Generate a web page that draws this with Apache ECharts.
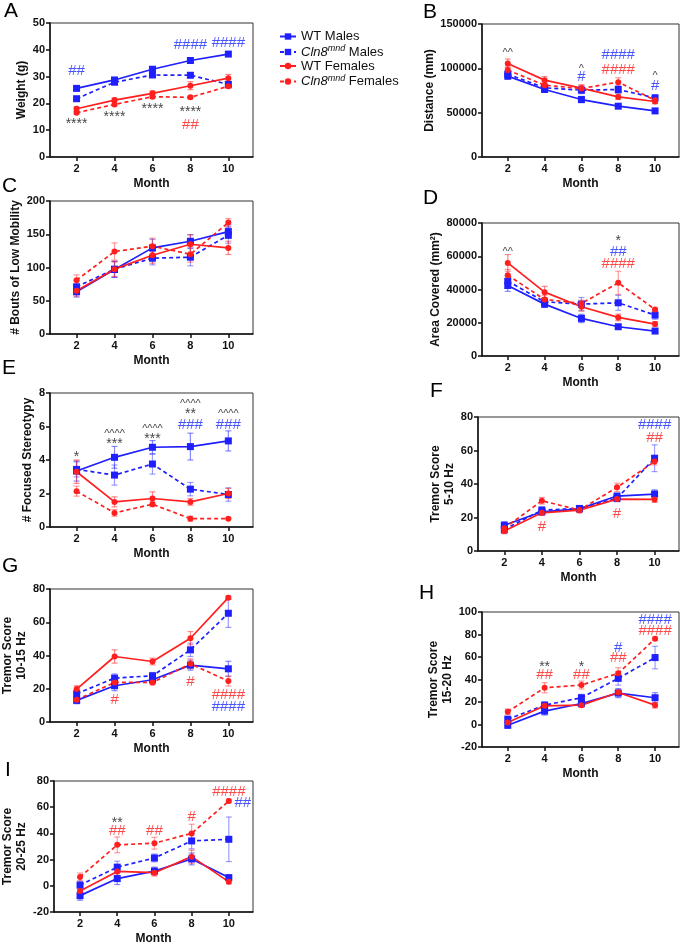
<!DOCTYPE html>
<html>
<head>
<meta charset="utf-8">
<script src="https://cdn.jsdelivr.net/npm/echarts@6/dist/echarts.min.js"></script>
<style>
  html, body { margin: 0; padding: 0; background: #fff; }
  #chart { width: 685px; height: 946px; }
</style>
</head>
<body>
<div id="chart"></div>
<script>
const months = [2, 4, 6, 8, 10]
const groups = ['WT Males', 'Cln8mnd Males', 'WT Females', 'Cln8mnd Females']

// rows: WT males, Cln8 males, WT females, Cln8 females
const weight = [
  [25.6, 28.75, 32.75, 36, 38.4],
  [21.75, 27.9, 30.6, 30.5, 27.1],
  [18, 21.25, 23.75, 26.6, 29.4],
  [16.5, 19.6, 22.5, 22.25, 26.4]
]
const weightErr = [
  [0.5, 0.6, 0.6, 0.8, 0.7],
  [0.6, 0.6, 0.5, 0.8, 0.8],
  [0.7, 0.7, 0.9, 1.5, 1.4],
  [0.5, 0.6, 0.6, 0.6, 0.8]
]
const distance = [
  [91200, 76100, 64800, 57300, 52000],
  [93500, 78000, 75400, 76100, 66700],
  [105500, 86700, 77600, 67800, 62600],
  [98000, 81000, 77300, 84400, 64000]
]
const distanceErr = [
  [3500, 2500, 3500, 1500, 1500],
  [3000, 3000, 4000, 4500, 3500],
  [5000, 4000, 3500, 3000, 2500],
  [4000, 3500, 4000, 5000, 3000]
]
const bouts = [
  [63.5, 97, 129.5, 139.5, 154],
  [71, 97.5, 114, 115.5, 148.5],
  [65, 97.5, 118.5, 135, 129.5],
  [81, 124, 132, 120, 167.5]
]
const boutsErr = [
  [8, 12, 13, 10, 10],
  [10, 12, 10, 13, 12],
  [8, 11, 12, 14, 10],
  [8, 13, 12, 12, 6]
]
const area = [
  [42400, 31200, 22600, 17600, 15000],
  [45000, 32600, 31200, 32000, 24600],
  [56000, 38400, 29600, 23200, 19200],
  [48600, 34000, 31600, 44000, 28000]
]
const areaErr = [
  [3500, 2000, 2500, 1200, 1200],
  [3500, 2500, 4000, 4500, 2500],
  [5000, 3500, 2500, 2000, 1500],
  [3500, 2500, 2000, 7000, 1000]
]
const stereotypy = [
  [3.34, 4.16, 4.76, 4.8, 5.14],
  [3.44, 3.1, 3.76, 2.26, 1.94],
  [3.3, 1.5, 1.7, 1.5, 2.0],
  [2.14, 0.84, 1.36, 0.5, 0.5]
]
const stereotypyErr = [
  [0.6, 0.65, 0.4, 0.8, 0.6],
  [0.45, 0.6, 0.6, 0.4, 0.4],
  [0.7, 0.3, 0.4, 0.2, 0.3],
  [0.3, 0.2, 0.15, 0.15, 0.05]
]
const tremor5 = [
  [15.4, 23.4, 25.2, 32.8, 34],
  [12.8, 24.4, 25.4, 31.4, 55.4],
  [12, 22.8, 24.4, 31, 30.8],
  [13.6, 30, 24.4, 38, 53.4]
]
const tremor5Err = [
  [2, 1.8, 1.5, 1.5, 2.5],
  [2.5, 2, 1.5, 2, 8],
  [1.5, 1.5, 1.5, 1.2, 1.8],
  [1.5, 2, 1.5, 2.5, 2]
]
const tremor10 = [
  [13, 21.8, 25.4, 34.2, 32],
  [17, 26.4, 27.8, 43.4, 65.4],
  [19.8, 39.4, 36.4, 50.4, 74.8],
  [13.4, 23.8, 23.8, 35, 24.6]
]
const tremor10Err = [
  [2, 3, 2, 3, 4.5],
  [2.5, 2.5, 2, 4, 8.5],
  [2, 4, 2, 4, 1],
  [1.5, 2, 1.5, 3, 3]
]
const tremor15 = [
  [-0.7, 11.9, 18.7, 27.9, 23.8],
  [4.7, 17.2, 23.8, 41, 59.5],
  [1.7, 16.6, 17.2, 28.5, 17.2],
  [11.3, 32.7, 35.1, 45.5, 76.2]
]
const tremor15Err = [
  [2.5, 3.5, 2.5, 4, 4.5],
  [2.5, 3, 3, 6, 10],
  [2, 2.5, 2, 2.5, 2.5],
  [2.5, 4.5, 3.5, 5, 1.5]
]
const tremor20 = [
  [-7.5, 5.5, 11.25, 20.5, 6.25],
  [0.5, 14.25, 21.25, 34.25, 35.5],
  [-4, 11, 10, 22.25, 3],
  [6.75, 31.25, 32.5, 40, 64.75]
]
const tremor20Err = [
  [3.5, 4.5, 3, 4.5, 2],
  [3, 4.5, 3, 6, 17],
  [3, 3, 2.5, 5, 1.5],
  [3, 6, 4.5, 7, 1.5]
]

// significance marks: [text, month, value, colour key]
const weightNotes = [['##', 2, 32, 'b'], ['####', 8, 42, 'b'], ['####', 10, 42.5, 'b'], ['****', 2, 13.5, 'k'], ['****', 4, 16, 'k'], ['****', 6, 19, 'k'], ['****', 8, 17.75, 'k'], ['##', 8, 12, 'r']]
const distanceNotes = [['^^', 2, 120600, 'k'], ['^', 6, 102500, 'k'], ['#', 6, 90500, 'b'], ['####', 8, 115700, 'b'], ['####', 8, 98000, 'r'], ['^', 10, 95000, 'k'], ['#', 10, 80000, 'b']]
const boutsNotes = []
const areaNotes = [['^^', 2, 64600, 'k'], ['*', 8, 70600, 'k'], ['##', 8, 62600, 'b'], ['####', 8, 55600, 'r']]
const stereotypyNotes = [['*', 2, 4.34, 'k'], ['^^^^', 4, 5.74, 'k'], ['***', 4, 5.1, 'k'], ['^^^^', 6, 6.06, 'k'], ['***', 6, 5.4, 'k'], ['^^^^', 8, 7.5, 'k'], ['**', 8, 6.94, 'k'], ['###', 8, 6.1, 'b'], ['^^^^', 10, 6.94, 'k'], ['###', 10, 6.1, 'b']]
const tremor5Notes = [['####', 10, 75.4, 'b'], ['##', 10, 67.4, 'r'], ['#', 4, 14.4, 'r'], ['#', 8, 22, 'r']]
const tremor10Notes = [['#', 4, 13.4, 'r'], ['#', 8, 24.4, 'r'], ['####', 10, 16.4, 'r'], ['####', 10, 9.4, 'b']]
const tremor15Notes = [['**', 4, 53.5, 'k'], ['##', 4, 44, 'r'], ['*', 6, 53.5, 'k'], ['##', 6, 44, 'r'], ['#', 8, 68.4, 'b'], ['##', 8, 58.9, 'r'], ['####', 10, 93.2, 'b'], ['####', 10, 83.3, 'r']]
const tremor20Notes = [['**', 4, 50, 'k'], ['##', 4, 42.25, 'r'], ['##', 6, 42.25, 'r'], ['#', 8, 52.5, 'r'], ['####', 10, 71.75, 'r'], ['##', 10.75, 63.5, 'b']]

const BLUE = '#1f1fff'
const RED = '#ff1f1f'
const FONT = 'Liberation Sans, Arial, sans-serif'
const noteColor = { b: '#1a2aff', r: '#ff1a1a', k: '#111' }
const looks = [
  { color: BLUE, dash: 'solid', symbol: 'rect', size: 7, err: 'rgba(40,40,255,0.55)' },
  { color: BLUE, dash: [4, 3], symbol: 'rect', size: 7, err: 'rgba(40,40,255,0.45)' },
  { color: RED, dash: 'solid', symbol: 'circle', size: 6, err: 'rgba(255,40,40,0.55)' },
  { color: RED, dash: [4, 3], symbol: 'circle', size: 6, err: 'rgba(255,40,40,0.45)' }
]

const panels = [
  { tag: 'A', rect: [50, 23, 203, 134], y: [0, 50, 10], name: 'Weight (g)', gap: 18, rows: weight, errs: weightErr, notes: weightNotes, lab: [4, 1] },
  { tag: 'B', rect: [482, 24, 197, 133], y: [0, 150000, 50000], name: 'Distance (mm)', gap: 41, rows: distance, errs: distanceErr, notes: distanceNotes, lab: [423, 2] },
  { tag: 'C', rect: [50, 201, 203, 133], y: [0, 200, 50], name: '# Bouts of Low Mobility', gap: 22, rows: bouts, errs: boutsErr, notes: boutsNotes, lab: [2, 176] },
  { tag: 'D', rect: [482, 223, 197, 133], y: [0, 80000, 20000], name: 'Area Covered (mm²)', gap: 34, rows: area, errs: areaErr, notes: areaNotes, lab: [423, 188] },
  { tag: 'E', rect: [50, 393, 203, 134], y: [0, 8, 2], name: '# Focused Stereotypy', gap: 11, rows: stereotypy, errs: stereotypyErr, notes: stereotypyNotes, lab: [2, 358] },
  { tag: 'F', rect: [478, 417, 201, 134], y: [0, 80, 20], name: 'Tremor Score\n5-10 Hz', gap: 14, rows: tremor5, errs: tremor5Err, notes: tremor5Notes, lab: [430, 381] },
  { tag: 'G', rect: [49, 589, 204, 133], y: [0, 80, 20], name: 'Tremor Score\n10-15 Hz', gap: 19, rows: tremor10, errs: tremor10Err, notes: tremor10Notes, lab: [2, 556] },
  { tag: 'H', rect: [482, 612, 197, 135], y: [-20, 100, 20], name: 'Tremor Score\n15-20 Hz', gap: 22, rows: tremor15, errs: tremor15Err, notes: tremor15Notes, lab: [419, 583] },
  { tag: 'I', rect: [50, 781, 203, 133], y: [-20, 80, 20], name: 'Tremor Score\n20-25 Hz', gap: 25, rows: tremor20, errs: tremor20Err, notes: tremor20Notes, lab: [5, 760] }
]

function renderErr (params, api) {
  const x = api.value(0)
  const y = api.value(1)
  const e = api.value(2)
  const top = api.coord([x, y + e])
  const bot = api.coord([x, y - e])
  const w = 3
  const style = { stroke: api.visual('color'), lineWidth: 1.2 }
  return {
    type: 'group',
    children: [
      { type: 'line', shape: { x1: top[0], y1: top[1], x2: bot[0], y2: bot[1] }, style },
      { type: 'line', shape: { x1: top[0] - w, y1: top[1], x2: top[0] + w, y2: top[1] }, style },
      { type: 'line', shape: { x1: bot[0] - w, y1: bot[1], x2: bot[0] + w, y2: bot[1] }, style }
    ]
  }
}

function noteLabel (n) {
  const ch = n[0][0]
  const size = ch === '#' ? 15 : ch === '*' ? 14 : 11
  const shift = ch === '#' ? 0 : 3
  return {
    show: true, position: 'inside', formatter: n[0], offset: [0, shift],
    color: noteColor[n[3]], fontFamily: FONT, fontSize: size
  }
}

const grid = []
const xAxis = []
const yAxis = []
const series = []
const graphic = []

panels.forEach((p, i) => {
  const [left, top, width, height] = p.rect
  grid.push({ left, top, width, height, show: true, borderColor: '#333', borderWidth: 1 })
  xAxis.push({
    type: 'value', gridIndex: i, min: 0.6, max: 11.3,
    name: 'Month', nameLocation: 'middle', nameGap: 21,
    nameTextStyle: { fontFamily: FONT, fontWeight: 'bold', fontSize: 12, color: '#111' },
    axisLine: { onZero: false, lineStyle: { color: '#111', width: 1.5 } },
    axisTick: { length: 4, customValues: months, lineStyle: { width: 1.5, color: '#111' } },
    axisLabel: { customValues: months, margin: 6, fontFamily: FONT, fontWeight: 'bold', fontSize: 11, color: '#111' },
    splitLine: { show: false }
  })
  yAxis.push({
    type: 'value', gridIndex: i, min: p.y[0], max: p.y[1], interval: p.y[2],
    name: p.name, nameLocation: 'middle', nameGap: p.gap, nameRotate: 90,
    nameTextStyle: { fontFamily: FONT, fontWeight: 'bold', fontSize: 12, color: '#111', lineHeight: 14 },
    axisLine: { show: true, onZero: false, lineStyle: { color: '#111', width: 1.5 } },
    axisTick: { show: true, length: 4, lineStyle: { width: 1.5, color: '#111' } },
    axisLabel: { margin: 5, fontFamily: FONT, fontWeight: 'bold', fontSize: 11, color: '#111', formatter: v => String(v) },
    splitLine: { show: false }
  })
  p.rows.forEach((row, g) => {
    const lk = looks[g]
    series.push({
      type: 'custom', name: groups[g] + ' err', xAxisIndex: i, yAxisIndex: i,
      renderItem: renderErr, itemStyle: { color: lk.err }, encode: { x: 0, y: 1 },
      data: months.map((m, k) => [m, row[k], p.errs[g][k]]), silent: true, z: 2
    })
  })
  p.rows.forEach((row, g) => {
    const lk = looks[g]
    series.push({
      type: 'line', name: groups[g], xAxisIndex: i, yAxisIndex: i,
      data: months.map((m, k) => [m, row[k]]),
      symbol: lk.symbol, symbolSize: lk.size, showSymbol: true,
      itemStyle: { color: lk.color },
      lineStyle: { color: lk.color, width: 1.7, type: lk.dash },
      silent: true, z: 3
    })
  })
  if (p.notes.length) {
    series.push({
      type: 'scatter', name: 'marks ' + p.tag, xAxisIndex: i, yAxisIndex: i,
      symbolSize: 1, itemStyle: { color: 'rgba(0,0,0,0)' }, silent: true, z: 5,
      data: p.notes.map(n => ({ value: [n[1], n[2]], label: noteLabel(n) }))
    })
  }
  graphic.push({
    type: 'text', left: p.lab[0], top: p.lab[1],
    style: { text: p.tag, font: '21px ' + FONT, fill: '#000' }
  })
})

const chart = echarts.init(document.getElementById('chart'), null, { renderer: 'canvas' })
chart.setOption({
  animation: false,
  backgroundColor: '#fff',
  grid, xAxis, yAxis, series, graphic,
  legend: {
    data: groups, orient: 'vertical', left: 274, top: 25,
    itemWidth: 16, itemHeight: 8, itemGap: 1,
    textStyle: {
      fontFamily: FONT, fontSize: 13, color: '#111',
      rich: {
        it: { fontFamily: FONT, fontSize: 13, fontStyle: 'italic', color: '#111' },
        sup: { fontFamily: FONT, fontSize: 9, fontStyle: 'italic', color: '#111', padding: [0, 0, 7, 0] },
        rm: { fontFamily: FONT, fontSize: 13, color: '#111' }
      }
    },
    formatter: n => n.startsWith('Cln8mnd')
      ? '{it|Cln8}{sup|mnd}{rm|' + n.slice(7) + '}'
      : n
  }
})
</script>
</body>
</html>
